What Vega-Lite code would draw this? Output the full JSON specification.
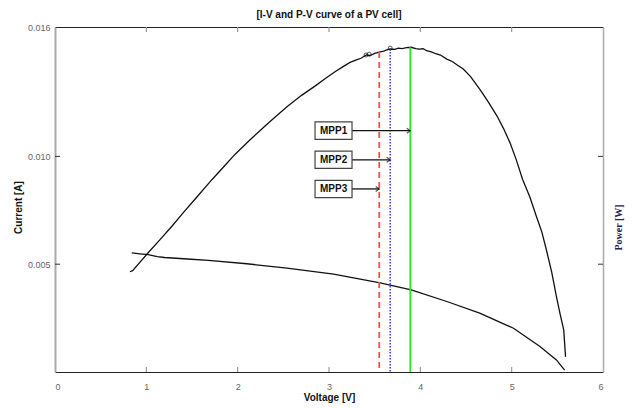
{
  "$schema": "https://vega.github.io/schema/vega-lite/v6.json",
  "width": 548,
  "height": 345,
  "autosize": "none",
  "padding": {"left": 55, "top": 27, "right": 31, "bottom": 36},
  "background": "white",
  "config": {
    "view": {"stroke": null},
    "axis": {
      "labelFont": "Liberation Sans",
      "labelFontSize": 9,
      "labelColor": "#666666",
      "titleFont": "Liberation Sans",
      "titleFontSize": 10,
      "titleFontWeight": "bold",
      "titleColor": "#111111",
      "grid": false,
      "domainColor": "#222222"
    }
  },
  "title": {
    "text": "[I-V and P-V curve of a PV cell]",
    "font": "Liberation Sans",
    "fontSize": 10,
    "fontWeight": "bold",
    "color": "#111111",
    "anchor": "middle",
    "offset": 3
  },
  "datasets": {
    "pv": [
      {"V": 0.82, "I": 0.00465}, {"V": 0.85, "I": 0.0047}, {"V": 1.02, "I": 0.00553},
      {"V": 1.15, "I": 0.00614}, {"V": 1.28, "I": 0.00676}, {"V": 1.4, "I": 0.00737},
      {"V": 1.53, "I": 0.008}, {"V": 1.72, "I": 0.00893}, {"V": 1.85, "I": 0.00953},
      {"V": 1.97, "I": 0.01009}, {"V": 2.13, "I": 0.01075}, {"V": 2.3, "I": 0.01141},
      {"V": 2.42, "I": 0.01186}, {"V": 2.55, "I": 0.01234}, {"V": 2.7, "I": 0.01283},
      {"V": 2.85, "I": 0.01327}, {"V": 2.96, "I": 0.01361}, {"V": 3.07, "I": 0.01394},
      {"V": 3.15, "I": 0.01415},
      {"V": 3.23, "I": 0.01436}, {"V": 3.3, "I": 0.01448}, {"V": 3.35, "I": 0.01455},
      {"V": 3.41, "I": 0.0147}, {"V": 3.45, "I": 0.01468}, {"V": 3.5, "I": 0.01478},
      {"V": 3.56, "I": 0.01485}, {"V": 3.6, "I": 0.01488}, {"V": 3.64, "I": 0.01495},
      {"V": 3.67, "I": 0.01498}, {"V": 3.72, "I": 0.01496}, {"V": 3.76, "I": 0.01502},
      {"V": 3.8, "I": 0.015}, {"V": 3.85, "I": 0.01504}, {"V": 3.9, "I": 0.01506},
      {"V": 3.95, "I": 0.015}, {"V": 3.99, "I": 0.01497}, {"V": 4.03, "I": 0.01499},
      {"V": 4.07, "I": 0.0149}, {"V": 4.12, "I": 0.01485}, {"V": 4.17, "I": 0.01476},
      {"V": 4.22, "I": 0.0147}, {"V": 4.29, "I": 0.01451}, {"V": 4.35, "I": 0.0144},
      {"V": 4.4, "I": 0.01425}, {"V": 4.47, "I": 0.01405}, {"V": 4.55, "I": 0.0137},
      {"V": 4.65, "I": 0.01312}, {"V": 4.74, "I": 0.01255}, {"V": 4.84, "I": 0.01187},
      {"V": 4.91, "I": 0.0113}, {"V": 4.98, "I": 0.01065}, {"V": 5.05, "I": 0.00985},
      {"V": 5.12, "I": 0.00893}, {"V": 5.2, "I": 0.0081}, {"V": 5.27, "I": 0.00722},
      {"V": 5.33, "I": 0.0065}, {"V": 5.38, "I": 0.00567}, {"V": 5.44, "I": 0.0046},
      {"V": 5.49, "I": 0.0035}, {"V": 5.53, "I": 0.0027}, {"V": 5.57, "I": 0.00195},
      {"V": 5.59, "I": 0.0007}
    ],
    "iv": [
      {"V": 0.84, "I": 0.00552}, {"V": 0.93, "I": 0.00548}, {"V": 1.02, "I": 0.00544},
      {"V": 1.12, "I": 0.00535}, {"V": 1.2, "I": 0.00531}, {"V": 1.45, "I": 0.00524},
      {"V": 1.68, "I": 0.00518}, {"V": 2.1, "I": 0.00502}, {"V": 2.54, "I": 0.00482},
      {"V": 3.05, "I": 0.00454}, {"V": 3.56, "I": 0.00413}, {"V": 3.9, "I": 0.00381},
      {"V": 4.29, "I": 0.00327}, {"V": 4.65, "I": 0.00273}, {"V": 5.02, "I": 0.00203},
      {"V": 5.31, "I": 0.00118}, {"V": 5.49, "I": 0.00056}, {"V": 5.58, "I": 0.00009}
    ],
    "circles": [
      {"V": 3.405, "I": 0.0147}, {"V": 3.44, "I": 0.01474}, {"V": 3.67, "I": 0.01502}
    ],
    "mpp": [
      {"name": "MPP1", "V": 3.89, "top": 0.01506, "base": 0},
      {"name": "MPP2", "V": 3.67, "top": 0.01498, "base": 0},
      {"name": "MPP3", "V": 3.55, "top": 0.01484, "base": 0}
    ],
    "boxes": [
      {"name": "MPP1", "x1": 2.847, "x2": 3.252, "xc": 3.05, "lo": 0.01079, "hi": 0.0116, "yc": 0.01119, "target": 3.89},
      {"name": "MPP2", "x1": 2.847, "x2": 3.252, "xc": 3.05, "lo": 0.00944, "hi": 0.01024, "yc": 0.00984, "target": 3.67},
      {"name": "MPP3", "x1": 2.847, "x2": 3.252, "xc": 3.05, "lo": 0.00809, "hi": 0.00889, "yc": 0.00849, "target": 3.55}
    ],
    "xticks": [
      {"V": 1, "a": 0, "b": 0.00023}, {"V": 2, "a": 0, "b": 0.00023}, {"V": 3, "a": 0, "b": 0.00023},
      {"V": 4, "a": 0, "b": 0.00023}, {"V": 5, "a": 0, "b": 0.00023},
      {"V": 1, "a": 0.016, "b": 0.01577}, {"V": 2, "a": 0.016, "b": 0.01577}, {"V": 3, "a": 0.016, "b": 0.01577},
      {"V": 4, "a": 0.016, "b": 0.01577}, {"V": 5, "a": 0.016, "b": 0.01577}
    ],
    "yticks": [
      {"I": 0.005, "a": 0, "b": 0.055}, {"I": 0.01, "a": 0, "b": 0.055},
      {"I": 0.005, "a": 6, "b": 5.945}, {"I": 0.01, "a": 6, "b": 5.945}
    ]
  },
  "layer": [
    {
      "data": {"name": "pv"},
      "mark": {"type": "line", "color": "#111111", "strokeWidth": 1.3},
      "encoding": {
        "x": {"field": "V", "type": "quantitative", "scale": {"domain": [0, 6], "nice": false},
          "axis": {"orient": "bottom", "title": "Voltage [V]", "values": [0, 1, 2, 3, 4, 5, 6], "ticks": false, "labelPadding": 10, "titleY": 25, "titleBaseline": "middle", "domainColor": "#222222"}},
        "y": {"field": "I", "type": "quantitative", "scale": {"domain": [0, 0.016], "nice": false, "zero": false},
          "axis": {"orient": "left", "title": "Current [A]", "values": [0.005, 0.01, 0.016], "format": ".3f", "ticks": false, "labelPadding": 5, "titleX": -37, "titleY": 180, "titleAngle": -90, "titleAlign": "center", "titleBaseline": "middle", "domainColor": "#aaaaaa", "domainWidth": 2}}
      }
    },
    {
      "data": {"name": "iv"},
      "mark": {"type": "line", "color": "#111111", "strokeWidth": 1.3},
      "encoding": {
        "x": {"field": "V", "type": "quantitative", "scale": {"domain": [0, 6], "nice": false},
          "axis": {"orient": "top", "title": null, "labels": false, "ticks": false, "values": [1, 2, 3, 4, 5], "domainColor": "#222222"}},
        "y": {"field": "I", "type": "quantitative", "scale": {"domain": [0, 0.016], "nice": false, "zero": false},
          "axis": {"orient": "right", "title": "Power [W]", "labels": false, "ticks": false, "values": [0.005, 0.01], "titleFont": "Liberation Serif", "titleColor": "#23234f", "titleFontSize": 10, "titleX": 15, "titleY": 200, "titleAngle": -90, "titleAlign": "center", "titleBaseline": "middle", "domainColor": "#aaaaaa", "domainWidth": 1.5}}
      }
    },
    {
      "data": {"name": "xticks"},
      "mark": {"type": "rule", "color": "#9a9a9a", "strokeWidth": 1.2},
      "encoding": {
        "x": {"field": "V", "type": "quantitative", "axis": null},
        "y": {"field": "a", "type": "quantitative", "axis": null},
        "y2": {"field": "b"}
      }
    },
    {
      "data": {"name": "yticks"},
      "mark": {"type": "rule", "color": "#333333", "strokeWidth": 1},
      "encoding": {
        "x": {"field": "a", "type": "quantitative", "axis": null},
        "x2": {"field": "b"},
        "y": {"field": "I", "type": "quantitative", "axis": null}
      }
    },
    {
      "data": {"name": "mpp"},
      "transform": [{"filter": "datum.name == 'MPP3'"}],
      "mark": {"type": "rule", "color": "#ff4d4d", "strokeWidth": 1.8, "strokeDash": [6, 4]},
      "encoding": {
        "x": {"field": "V", "type": "quantitative", "axis": null},
        "y": {"field": "top", "type": "quantitative", "axis": null},
        "y2": {"field": "base"}
      }
    },
    {
      "data": {"name": "mpp"},
      "transform": [{"filter": "datum.name == 'MPP2'"}],
      "mark": {"type": "rule", "color": "#2a2aff", "strokeWidth": 1.4, "strokeDash": [1.5, 1.5]},
      "encoding": {
        "x": {"field": "V", "type": "quantitative", "axis": null},
        "y": {"field": "top", "type": "quantitative", "axis": null},
        "y2": {"field": "base"}
      }
    },
    {
      "data": {"name": "mpp"},
      "transform": [{"filter": "datum.name == 'MPP1'"}],
      "mark": {"type": "rule", "color": "#22ee22", "strokeWidth": 1.8},
      "encoding": {
        "x": {"field": "V", "type": "quantitative", "axis": null},
        "y": {"field": "top", "type": "quantitative", "axis": null},
        "y2": {"field": "base"}
      }
    },
    {
      "data": {"name": "circles"},
      "mark": {"type": "point", "shape": "circle", "filled": false, "color": "#111111", "size": 16, "strokeWidth": 1},
      "encoding": {
        "x": {"field": "V", "type": "quantitative", "axis": null},
        "y": {"field": "I", "type": "quantitative", "axis": null}
      }
    },
    {
      "data": {"name": "boxes"},
      "mark": {"type": "rule", "color": "#111111", "strokeWidth": 1.3},
      "encoding": {
        "x": {"field": "x2", "type": "quantitative", "axis": null},
        "x2": {"field": "target"},
        "y": {"field": "yc", "type": "quantitative", "axis": null}
      }
    },
    {
      "data": {"name": "boxes"},
      "mark": {"type": "point", "shape": "M-1,-0.7L0,0L-1,0.7", "filled": false, "color": "#111111", "size": 50, "strokeWidth": 1.2},
      "encoding": {
        "x": {"field": "target", "type": "quantitative", "axis": null},
        "y": {"field": "yc", "type": "quantitative", "axis": null}
      }
    },
    {
      "data": {"name": "boxes"},
      "mark": {"type": "rect", "fill": "white", "stroke": "#444444", "strokeWidth": 1.2},
      "encoding": {
        "x": {"field": "x1", "type": "quantitative", "axis": null},
        "x2": {"field": "x2"},
        "y": {"field": "lo", "type": "quantitative", "axis": null},
        "y2": {"field": "hi"}
      }
    },
    {
      "data": {"name": "boxes"},
      "mark": {"type": "text", "font": "Liberation Sans", "fontWeight": "bold", "fontSize": 10, "color": "#111111", "baseline": "middle", "align": "center"},
      "encoding": {
        "x": {"field": "xc", "type": "quantitative", "axis": null},
        "y": {"field": "yc", "type": "quantitative", "axis": null},
        "text": {"field": "name"}
      }
    }
  ],
  "resolve": {"axis": {"x": "independent", "y": "independent"}}
}
